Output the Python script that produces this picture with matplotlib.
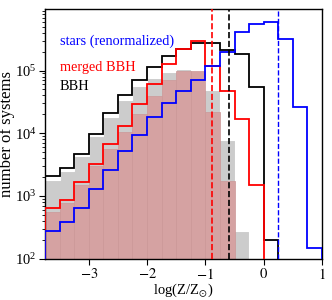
import numpy as np
import matplotlib
matplotlib.use("Agg")
import matplotlib.pyplot as plt

bin_edges = [-3.75, -3.5, -3.25, -3.0, -2.75, -2.5, -2.25, -2.0, -1.75, -1.5,
             -1.25, -1.0, -0.75, -0.5, -0.25, 0.0, 0.25, 0.5, 0.75, 1.0]

bbh_line = [2050, 2790, 4740, 9860, 20700, 40100, 71600, 115000, 168000, 224000,
            280000, 280000, 210000, 181000, 54000, 199, 0, 0, 0]
merged_line = [630, 848, 1640, 3240, 6630, 13100, 29000, 61000, 125000, 224000,
               298000, 118000, 46500, 16800, 1500, 0, 0, 0, 0]
stars_line = [271, 378, 646, 1310, 2590, 5110, 9510, 17900, 30100, 46500,
              71600, 118000, 198000, 406000, 553000, 604000, 317000, 26600, 146]
bbh_fill = [1800, 2520, 4400, 9050, 17900, 33300, 56000, 76200, 95300, 105000,
            100000, 49300, 7690, 271, 0, 0, 0, 0, 0]
merged_fill = [557, 778, 1500, 3040, 5650, 10500, 20200, 39500, 70000, 100000,
               98000, 22100, 1700, 0, 0, 0, 0, 0, 0]

median_merged = -0.88
median_bbh = -0.60
median_stars = 0.24

labels = ["stars (renormalized)", "merged BBH", "BBH"]
label_colors = ["#0000ff", "#ff0000", "black"]

plt.rcParams['font.family'] = ['Liberation Serif', 'DejaVu Serif']
plt.rcParams['mathtext.fontset'] = 'stix'
plt.rcParams['font.size'] = 10.5

fig = plt.figure(figsize=(3.32, 3.00), dpi=100)
ax = fig.add_axes([45/332, 41.5/300, 277/332, 249.2/300])
ax.set_yscale('log')

edges = np.array(bin_edges)
widths = np.diff(edges)
floor = 1e-3

def clean(v):
    v = np.array(v, dtype=float)
    return np.where(v > 0, v, floor)

ax.bar(edges[:-1], clean(bbh_fill), width=widths, align='edge', bottom=floor,
       color='#cccccc', linewidth=0, zorder=1)
ax.stairs(clean(bbh_fill), edges, baseline=None, color='white', lw=0.8, zorder=1.5)
ax.bar(edges[:-1], clean(merged_fill), width=widths, align='edge', bottom=floor,
       color='#d5a2a2', edgecolor='#cc9797', linewidth=0.5, zorder=2)

ax.stairs(clean(bbh_line), edges, baseline=floor, color='black', lw=1.3, zorder=3)
ax.stairs(clean(merged_line), edges, baseline=floor, color='#ff0000', lw=1.3, zorder=4)
ax.stairs(clean(stars_line), edges, baseline=floor, color='#0000ff', lw=1.3, zorder=5)

ax.axvline(median_merged, color='#ff0000', ls='--', lw=1.2, zorder=6)
ax.axvline(median_bbh, color='black', ls='--', lw=1.2, zorder=6)
ax.axvline(median_stars, color='#0000ff', ls='--', lw=1.0, zorder=6)

ax.set_xlim(-3.75, 1.0)
ax.set_ylim(1e2, 9.5e5)
ax.set_xticks([-3, -2, -1, 0, 1])
ax.set_xticklabels(['$-3$', '$-2$', '$-1$', '$0$', '$1$'])
ax.tick_params(direction='out', which='both', top=False, right=False, labelsize=10.5)
ax.tick_params(which='major', length=4, pad=2.0)
ax.tick_params(which='minor', length=2)

ax.set_xlabel(r'log(Z/Z$_{\odot}$)', fontsize=10.5, va='bottom')
ax.set_ylabel('number of systems', fontsize=12, va='center')
ax.xaxis.set_label_coords(0.5, -0.164)
ax.yaxis.set_label_coords(-0.138, 0.5)

ys = [0.873, 0.766, 0.692]
for t, c, y in zip(labels, label_colors, ys):
    ax.text(0.054, y, t, color=c, transform=ax.transAxes, fontsize=10.3,
            va='center', ha='left', zorder=10)

for s in ax.spines.values():
    s.set_linewidth(1.0)

fig.savefig('out.png', dpi=100)
